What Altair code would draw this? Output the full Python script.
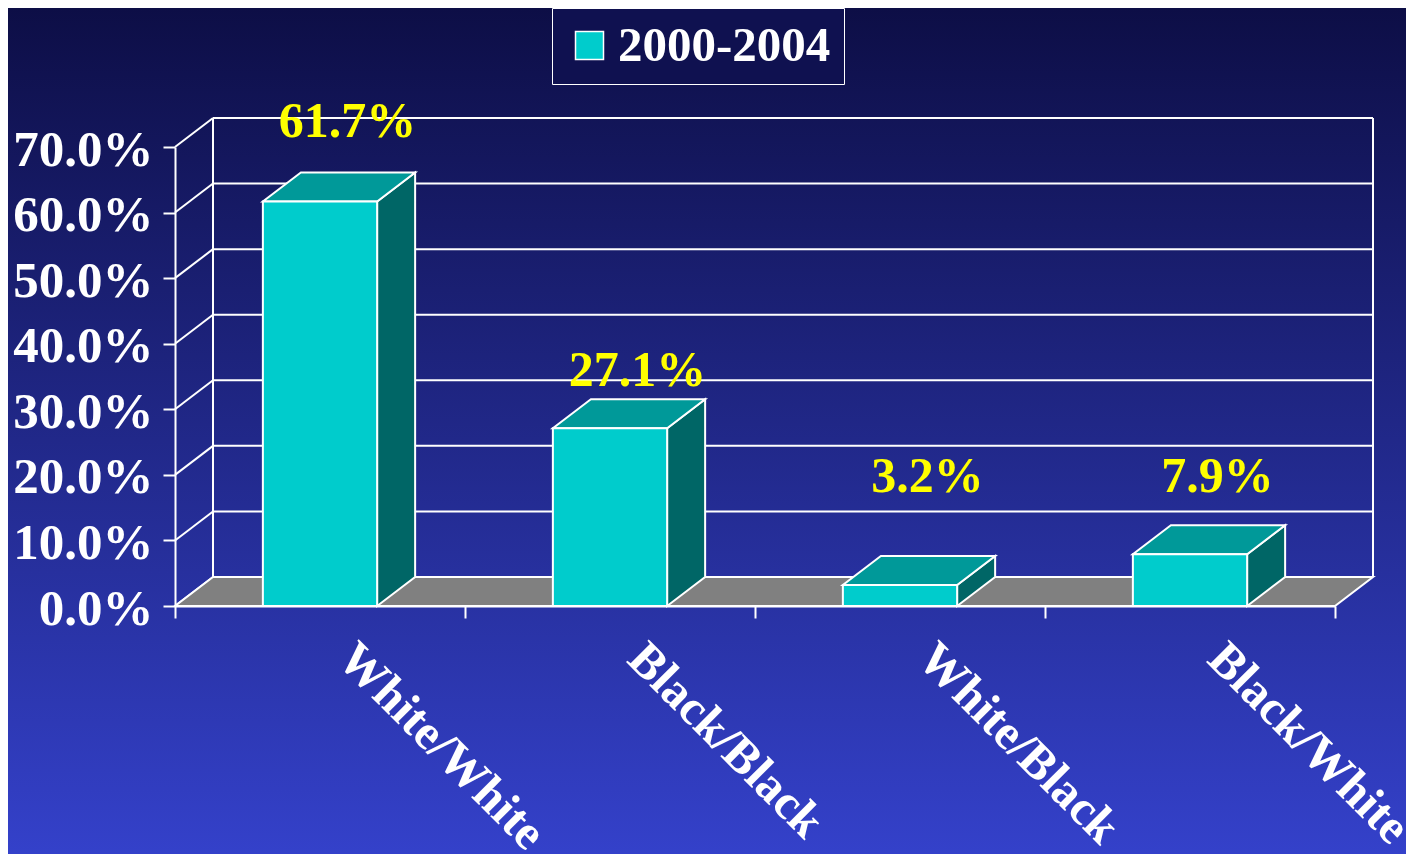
import altair as alt
import pandas as pd

# ---------------- data ----------------
categories = ["White/White", "Black/Black", "White/Black", "Black/White"]
values = [61.7, 27.1, 3.2, 7.9]
series_name = "2000-2004"
y_ticks = [0, 10, 20, 30, 40, 50, 60, 70]

# ---------------- geometry / style ----------------
W, H = 1160, 459          # front plot area (pixels)
Y_MAX = 70
N = len(categories)
DX = 38 / (W / N)         # 3D depth, in x data units
DY = 29 / (H / Y_MAX)     # 3D depth, in y data units
HW = 0.197                # half bar width (category units)
FONT = "Liberation Serif"
PAD_L, PAD_T = 167, 139
CANVAS_W, CANVAS_H = 1398, 846

FRONT = "#00CCCC"
TOP = "#009999"
SIDE = "#006666"
FLOOR = "#808080"

xs = alt.Scale(domain=[0, N], nice=False, zero=False)
ys = alt.Scale(domain=[0, Y_MAX], nice=False)

cat_expr = "[" + ",".join("'%s'" % c for c in categories) + "][datum.value] || ''"

x_axis = alt.Axis(
    values=list(range(N + 1)), labelExpr=cat_expr, title=None, grid=False,
    domainColor="white", domainWidth=2, tickColor="white", tickWidth=2, tickSize=12,
    labelColor="white", labelFont=FONT, labelFontWeight="bold", labelFontSize=49,
    labelAngle=45, labelAlign="left", labelBaseline="alphabetic", labelLimit=600,
    labelPadding=43, labelOffset=160, labelFlush=False, labelOverlap=False, zindex=1,
)
y_axis = alt.Axis(
    values=y_ticks, labelExpr="format(datum.value, '.1f') + '%'", title=None, grid=False,
    domainColor="white", domainWidth=2, tickColor="white", tickWidth=2, tickSize=12,
    labelColor="white", labelFont=FONT, labelFontWeight="bold", labelFontSize=51,
    labelPadding=10, labelOffset=3, labelOverlap=False, labelFlush=False, labelLimit=300,
    zindex=1,
)


def X(f):
    return alt.X(f, type="quantitative", scale=xs, axis=x_axis)


def Y(f):
    return alt.Y(f, type="quantitative", scale=ys, axis=y_axis)


# ---------------- derived tables ----------------
rules = []
for v in y_ticks:
    rules.append(dict(x=DX, x2=N + DX, y=v + DY, y2=v + DY))   # back wall
    rules.append(dict(x=0, x2=DX, y=v, y2=v + DY))             # side wall
rules.append(dict(x=DX, x2=DX, y=DY, y2=Y_MAX + DY))
rules.append(dict(x=N + DX, x2=N + DX, y=DY, y2=Y_MAX + DY))
rules_df = pd.DataFrame(rules)

floor_df = pd.DataFrame([
    dict(y=0, x=0, x2=N),
    dict(y=DY, x=DX, x2=N + DX),
])

front_rows, top_rows, side_rows, lab_rows = [], [], [], []
for i, (c, v) in enumerate(zip(categories, values)):
    L, R = i + 0.5 - HW, i + 0.5 + HW
    front_rows.append(dict(x=L, x2=R, y=0, y2=v, series=series_name))
    top_rows += [dict(bar=c, y=v, x=L, x2=R), dict(bar=c, y=v + DY, x=L + DX, x2=R + DX)]
    side_rows += [dict(bar=c, x=R, y=0, y2=v), dict(bar=c, x=R + DX, y=DY, y2=v + DY)]
    lab_rows.append(dict(x=i + 0.5 + 0.095, y=max(1.1 * v + 6, 19.7), text=f"{v:.1f}%"))

front_df = pd.DataFrame(front_rows)
top_df = pd.DataFrame(top_rows)
side_df = pd.DataFrame(side_rows)
lab_df = pd.DataFrame(lab_rows)

# ---------------- layers ----------------
grad = alt.LinearGradient(
    gradient="linear",
    stops=[alt.GradientStop(color="#0d0e46", offset=0),
           alt.GradientStop(color="#3441ca", offset=1)],
    x1=0, x2=0, y1=0, y2=1,
)
bg = alt.Chart(alt.Data(values=[{}])).mark_rect(color=grad).encode(
    x=alt.value(-PAD_L), x2=alt.value(CANVAS_W - PAD_L),
    y=alt.value(-PAD_T), y2=alt.value(CANVAS_H - PAD_T),
)

grid = alt.Chart(rules_df).mark_rule(color="white", strokeWidth=2).encode(
    x=X("x"), x2=alt.X2("x2"), y=Y("y"), y2=alt.Y2("y2")
)

floor = alt.Chart(floor_df).mark_area(
    orient="horizontal", fill=FLOOR, stroke="white", strokeWidth=2, opacity=1
).encode(y=Y("y"), x=X("x"), x2=alt.X2("x2"))

side = alt.Chart(side_df).mark_area(
    orient="vertical", fill=SIDE, stroke="white", strokeWidth=2, opacity=1
).encode(x=X("x"), y=Y("y"), y2=alt.Y2("y2"), detail="bar:N")

top = alt.Chart(top_df).mark_area(
    orient="horizontal", fill=TOP, stroke="white", strokeWidth=2, opacity=1
).encode(y=Y("y"), x=X("x"), x2=alt.X2("x2"), detail="bar:N")

front = alt.Chart(front_df).mark_rect(stroke="white", strokeWidth=2, opacity=1).encode(
    x=X("x"), x2=alt.X2("x2"), y=Y("y"), y2=alt.Y2("y2"),
    color=alt.Color(
        "series:N",
        scale=alt.Scale(domain=[series_name], range=[FRONT]),
        title=None,
        legend=alt.Legend(
            orient="none", legendX=377, legendY=-PAD_T,
            fillColor="#0f1150", strokeColor="white", padding=13,
            symbolType="square", symbolSize=784, symbolStrokeColor="white",
            symbolStrokeWidth=1.5, symbolOffset=0, symbolOpacity=1,
            labelFont=FONT, labelFontWeight="bold", labelFontSize=49,
            labelColor="white", labelOffset=4, labelLimit=500,
        ),
    ),
)

labels = alt.Chart(lab_df).mark_text(
    font=FONT, fontWeight="bold", fontSize=50, color="#FFFF00",
    align="center", baseline="middle",
).encode(x=X("x"), y=Y("y"), text="text:N")

chart = alt.layer(bg, grid, floor, side, top, front, labels).properties(
    width=W, height=H,
    padding={"left": PAD_L, "top": PAD_T, "right": CANVAS_W - PAD_L - W, "bottom": CANVAS_H - PAD_T - H},
    autosize=alt.AutoSizeParams(type="none"),
).configure_view(strokeWidth=0).configure(background="#0d0e46")

chart.save("out.html", embed_options={"renderer": "svg", "actions": False})
